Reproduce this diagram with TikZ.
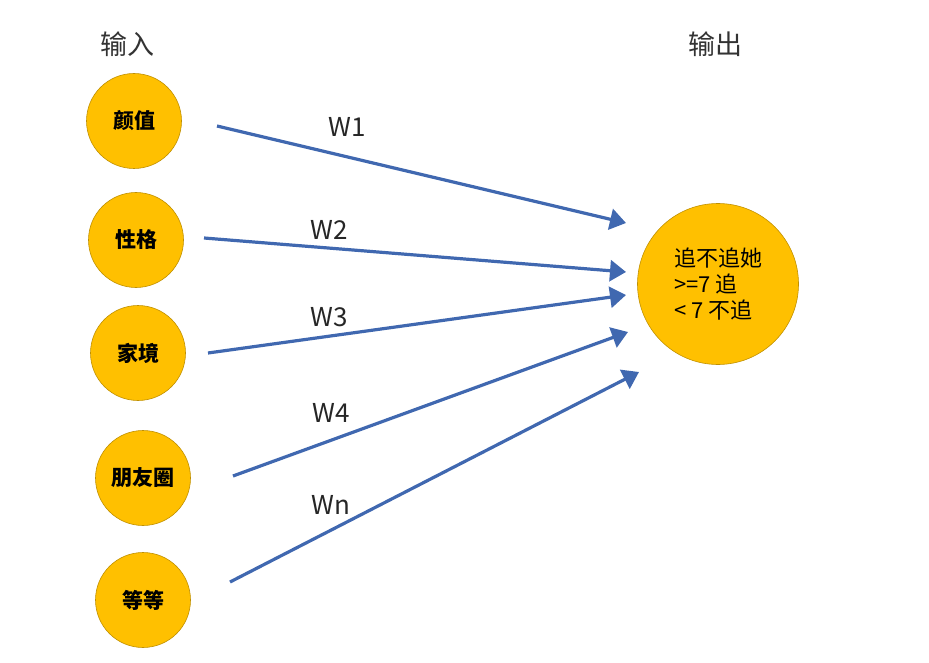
\documentclass[tikz,border=0pt]{standalone}
\usepackage{fontspec}
\setmainfont{Noto Sans CJK SC}
\usepackage{tikz}
\usetikzlibrary{arrows.meta, positioning, calc}
\definecolor{gold}{HTML}{FFC000}
\definecolor{goldline}{HTML}{C09000}
\definecolor{arrowblue}{HTML}{4068B0}

\begin{document}
\begin{tikzpicture}[
	x=1pt, y=-1pt,
	feature/.style={circle, draw=goldline, fill=gold, line width=0.6pt, minimum size=95pt, inner sep=0pt, font=\fontsize{21}{24}\selectfont\bfseries},
	output/.style={circle, draw=goldline, fill=gold, line width=0.6pt, minimum size=161pt, inner sep=0pt, align=left, font=\fontsize{22}{26}\selectfont},
	title/.style={font=\fontsize{27}{30}\selectfont, text=black!80},
	weight/.style={font=\fontsize{26}{29}\selectfont, text=black!85},
	arrow/.style={-{Triangle[length=16pt, width=21pt]}, line width=3.2pt, draw=arrowblue}
]
\useasboundingbox (0,0) rectangle (929,663);

% Column titles
\node[title] (In) at (127,44) {输入};
\node[title] (Out) at (715,44) {输出};

% Input features
\node[feature] (F1) at (134,121) {颜值};
\node[feature] (F2) at (136,240) {性格};
\node[feature] (F3) at (138,353) {家境};
\node[feature] (F4) at (143,478) {朋友圈};
\node[feature] (F5) at (143,600) {等等};

% Output neuron
\node[output] (Y) at (718,284) {追不追她\\>=7 追\\< 7 不追};

% Arrow ends
\coordinate (S1) at (217,126);
\coordinate (S2) at (204,238);
\coordinate (S3) at (208,353);
\coordinate (S4) at (233,476);
\coordinate (S5) at (230,582);
\coordinate (E1) at (626,223);
\coordinate (E2) at (626,272);
\coordinate (E3) at (626,295);
\coordinate (E4) at (628,332);
\coordinate (E5) at (639,372);

\draw[arrow] (S1) -- (E1);
\draw[arrow] (S2) -- (E2);
\draw[arrow] (S3) -- (E3);
\draw[arrow] (S4) -- (E4);
\draw[arrow] (S5) -- (E5);

% Weights
\node[weight] (W1) at (347,127) {W1};
\node[weight] (W2) at (329,230) {W2};
\node[weight] (W3) at (329,317) {W3};
\node[weight] (W4) at (331,413) {W4};
\node[weight] (Wn) at (331,505) {Wn};
\end{tikzpicture}
\end{document}
